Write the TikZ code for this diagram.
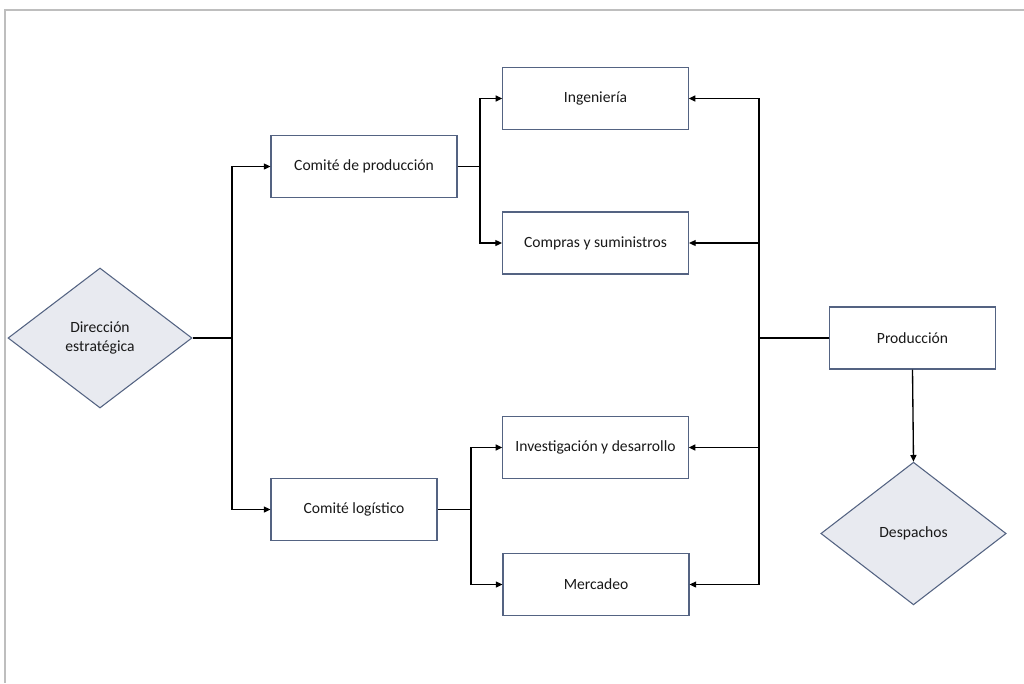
\documentclass[tikz,border=0pt]{standalone}
\usepackage{fontspec}
\setmainfont{Carlito}
\usetikzlibrary{shapes.geometric,arrows.meta}
\definecolor{boxline}{RGB}{84,99,130}
\definecolor{diafill}{RGB}{232,234,240}
\definecolor{framegray}{RGB}{190,190,190}
\definecolor{txt}{RGB}{25,25,25}
\tikzset{
  unit/.style={rectangle, draw=boxline, line width=0.8pt, fill=white,
    text=txt, font=\fontsize{11.7}{14}\selectfont, inner sep=0pt},
  decision/.style={diamond, draw=boxline, line width=0.8pt, fill=diafill,
    text=txt, font=\fontsize{11.7}{14}\selectfont, inner sep=0pt, align=center},
  link/.style={draw=black, line width=1pt},
  feed/.style={link, -{Triangle[length=5pt,width=4.5pt]}},
  mainlink/.style={draw=black, line width=2pt}
}
\begin{document}
\begin{tikzpicture}[x=0.75pt,y=-0.75pt]
\useasboundingbox (0,0) rectangle (1024,683);
% page frame
\draw[framegray, line width=1.6pt] (5,683) -- (5,10) -- (1024,10);

% decisions
\node[decision, minimum width=138pt, minimum height=105pt] (dir) at (100,338) {Dirección\\estratégica};
\node[decision, minimum width=139pt, minimum height=107pt] (desp) at (913.5,533.5) {Despachos};

% committees
\node[unit, minimum width=139.5pt, minimum height=46pt] (cprod) at (364,166.5) {Comité de producción};
\node[unit, minimum width=124.5pt, minimum height=46pt] (clog) at (354,509.5) {Comité logístico};

% departments
\node[unit, minimum width=139pt, minimum height=47pt] (ing) at (595.5,98.5) {Ingeniería};
\node[unit, minimum width=139.5pt, minimum height=46.5pt] (comp) at (595.5,243) {Compras y suministros};
\node[unit, minimum width=139pt, minimum height=47pt] (inv) at (595.5,447.5) {Investigación y desarrollo};
\node[unit, minimum width=139.5pt, minimum height=47pt] (merc) at (596,584.5) {Mercadeo};

% production
\node[unit, minimum width=124pt, minimum height=46.5pt] (prod) at (912.5,338) {Producción};

% junction points
\coordinate (jdir) at (232,338);
\coordinate (jcp) at (480,166.5);
\coordinate (jcl) at (471,509.5);
\coordinate (jpr) at (759,338);

% strategic direction to committees
\draw[link] (dir.east) -- (jdir);
\draw[feed] (jdir) |- (cprod.west);
\draw[feed] (jdir) |- (clog.west);

% production committee branch
\draw[link] (cprod.east) -- (jcp);
\draw[feed] (jcp) |- (ing.west);
\draw[feed] (jcp) |- (comp.west);

% logistics committee branch
\draw[link] (clog.east) -- (jcl);
\draw[feed] (jcl) |- (inv.west);
\draw[feed] (jcl) |- (merc.west);

% production feedback to departments
\draw[mainlink] (prod.west) -- (jpr);
\draw[feed] (jpr) |- (ing.east);
\draw[feed] (jpr) |- (comp.east);
\draw[feed] (jpr) |- (inv.east);
\draw[feed] (jpr) |- (merc.east);

% production to dispatch
\draw[feed] (prod.south) -- (desp.north);
\end{tikzpicture}
\end{document}
